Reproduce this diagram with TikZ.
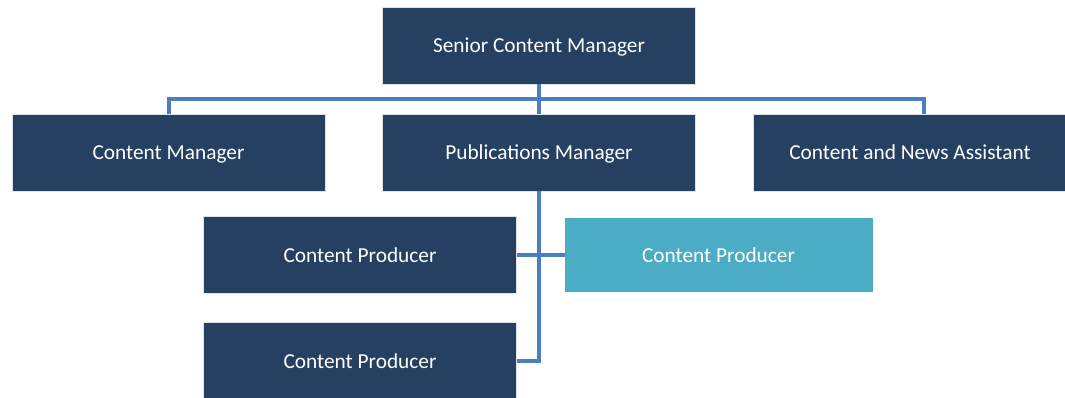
\documentclass[tikz,border=0pt]{standalone}
\usepackage{fontspec}
\setmainfont{Carlito}
\definecolor{navy}{HTML}{264061}
\definecolor{aqua}{HTML}{4BACC6}
\definecolor{linkblue}{HTML}{4A7EBF}
\tikzset{
orgbox/.style={fill=navy, draw=white!85!navy, line width=0.4pt, text=white,
    font=\fontsize{16}{19}\selectfont, inner sep=0pt,
    text height=12pt, text depth=0.75pt,
    minimum width=234.75pt, minimum height=57.75pt},
accentbox/.style={orgbox, fill=aqua, draw=aqua,
    minimum width=230.25pt, minimum height=54.4pt},
link/.style={draw=linkblue, line width=3pt},
}
\begin{document}
\begin{tikzpicture}[x=0.75pt,y=-0.75pt]
    \useasboundingbox (0,0) rectangle (1065,398);
    \node[orgbox] (senior) at (539,45.5) {Senior Content Manager};
    \node[orgbox] (cm) at (168.5,152.5) {Content Manager};
    \node[orgbox] (pub) at (539,152.5) {Publications Manager};
    \node[orgbox] (cna) at (910,152.5) {Content and News Assistant};
    \node[orgbox] (proda) at (360,255) {Content Producer};
    \node[accentbox] (prodc) at (718.5,255) {Content Producer};
    \node[orgbox] (prodb) at (360,361) {Content Producer};
    \coordinate (bus) at (539,99);
    \draw[link] (cm.north) |- (bus) -| ([xshift=10.5pt]cna.north);
    \draw[link] (senior.south) -- (pub.north);
    \draw[link] (pub.south) |- (prodb.east);
    \draw[link] (proda.east) -- (prodc.west);
\end{tikzpicture}
\end{document}
